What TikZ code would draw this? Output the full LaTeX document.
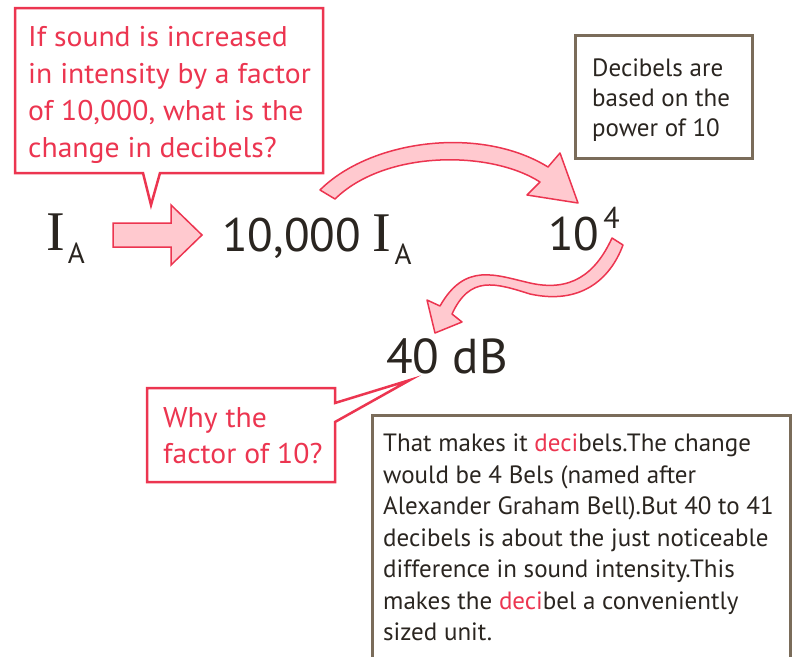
\documentclass[tikz,border=0pt]{standalone}
\usepackage{fontspec}
\setmainfont{PT Sans}
\newfontfamily\qfont{PT Sans}[FakeStretch=1.04]
\newfontfamily\serifI{Liberation Serif}
\definecolor{cred}{HTML}{EC3550}
\definecolor{cpink}{HTML}{FFC9CF}
\definecolor{cbox}{HTML}{7A6C5A}
\definecolor{ctext}{HTML}{2A2520}
\newcommand{\IAsym}{{\fontsize{56}{56}\selectfont\serifI I}\kern3pt\raisebox{-13pt}{\fontsize{29}{29}\selectfont A}}
\newcommand{\redtxt}[1]{\textcolor{cred}{#1}}
\begin{document}
\begin{tikzpicture}[x=1pt,y=-1pt,
  calloutline/.style={draw=cred, line width=2.5pt, fill=white, line join=miter},
  notebox/.style={draw=cbox, line width=3pt},
  bigarrow/.style={draw=cred, fill=cpink, line width=1.5pt, line join=round},
  qtext/.style={text=cred, font=\qfont\fontsize{28.5}{37}\selectfont, align=left, inner sep=0pt, anchor=north west},
  ntext/.style={text=ctext, font=\fontsize{25}{31.5}\selectfont, align=left, inner sep=0pt, anchor=north west},
  bigtext/.style={text=ctext, font=\fontsize{47}{47}\selectfont, inner sep=0pt, anchor=base west}]
\useasboundingbox (0,0) rectangle (792,656);
\clip (0,0) rectangle (792,656);
% top callout
\draw[calloutline] (15,8) -- (323,8) -- (323,173) -- (160,173) -- (151,205) -- (143,173) -- (15,173) -- cycle;
\node[qtext] (q1) at (28,26) {If sound is increased\\in intensity by a factor\\of 10,000, what is the\\change in decibels?};
% top right note
\draw[notebox] (575,35) rectangle (752,158);
\node[ntext, font=\fontsize{25}{30}\selectfont] (n1) at (592,59) {Decibels are\\based on the\\power of 10};
% big texts
\node[bigtext] (ia) at (46,250) {\IAsym};
\node[bigtext] (ib) at (222,251) {10,000\hspace{12pt}\IAsym};
\node[bigtext] (pw) at (548,250) {10\kern4pt\raisebox{22pt}{\fontsize{30}{30}\selectfont 4}};
\node[bigtext, font=\fontsize{49}{49}\selectfont] (db) at (386,373) {40 dB};
% block arrow
\draw[bigarrow, line join=miter] (113,223) -- (171,223) -- (171,205) -- (202,235) -- (171,265) -- (171,247) -- (113,247) -- cycle;
% curved arrow 1
\draw[bigarrow] (320,190) .. controls (370,140) and (480,125) .. (548,167) -- (560,153) -- (578,203) -- (527,195) -- (540,182) .. controls (490,150) and (385,150) .. (335,199) -- cycle;
% curved arrow 2
\draw[bigarrow] (612,238) .. controls (595,275) and (570,292) .. (530,283) .. controls (495,275) and (465,262) .. (440,306) -- (427,300) -- (435,333) -- (462,322) -- (452,314) .. controls (470,275) and (495,283) .. (530,294) .. controls (580,305) and (610,280) .. (623,245) -- cycle;
% bottom left callout
\draw[calloutline] (147,388) -- (335,388) -- (335,403) -- (410,380) -- (335,422) -- (335,482) -- (147,482) -- cycle;
\node[qtext, font=\qfont\fontsize{28.5}{36}\selectfont] (q2) at (163,407) {Why the\\factor of 10?};
% bottom right note
\draw[notebox] (372,415) rectangle (790,700);
\node[ntext] (n2) at (383,434) {That makes it \redtxt{deci}bels.The change\\would be 4 Bels (named after\\Alexander Graham Bell).But 40 to 41\\decibels is about the just noticeable\\difference in sound intensity.This\\makes the \redtxt{deci}bel a conveniently\\sized unit.};
\end{tikzpicture}
\end{document}
